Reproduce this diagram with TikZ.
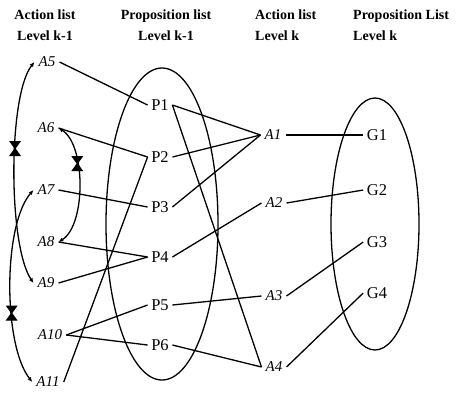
\documentclass[tikz,border=0pt]{standalone}
\usepackage{fontspec}
\setmainfont{Liberation Serif}
\usetikzlibrary{arrows.meta}

\begin{document}
\begin{tikzpicture}[x=1pt, y=-1pt,
                        font       = \fontsize{14}{16}\selectfont,
                        head/.style= {font=\fontsize{14}{21}\selectfont\bfseries, inner sep=0pt},
                        act/.style = {font=\fontsize{15}{17}\selectfont\itshape, inner sep=4pt},
                        prop/.style= {font=\fontsize{16.5}{18}\selectfont, inner sep=3.5pt},
                        ln/.style  = {line width=1.3pt},
                        mx/.style  = {ln, {Latex[length=1.7mm,width=1.5mm]}-{Latex[length=1.7mm,width=1.5mm]}},
                        xm/.style  = {line width=1pt, fill=black, draw=black}
                  ]
                  \useasboundingbox (0,0) rectangle (457,392);

                  % headers
                  \node[head, anchor=north, align=center] (hAprev) at (45,10)  {Action list\\Level k-1};
                  \node[head, anchor=north, align=center] (hPprev) at (166,10) {Proposition list\\Level k-1};
                  \node[head, anchor=north west, align=left] (hAk) at (255,10) {Action list\\Level k};
                  \node[head, anchor=north west, align=left] (hPk) at (353,10) {Proposition List\\Level k};

                  % proposition lists
                  \draw[ln] (162,224) ellipse [x radius=56, y radius=156];
                  \draw[ln] (375,224) ellipse [x radius=44, y radius=126];

                  % action list level k-1
                  \node[act] (a5)  at (47,62)  {A5};
                  \node[act] (a6)  at (46,128) {A6};
                  \node[act] (a7)  at (46,190) {A7};
                  \node[act] (a8)  at (46,242) {A8};
                  \node[act] (a9)  at (46,283) {A9};
                  \node[act] (a10) at (50,335) {A10};
                  \node[act] (a11) at (48,382) {A11};

                  % proposition list level k-1
                  \node[prop] (p1) at (160,105) {P1};
                  \node[prop] (p2) at (160,157) {P2};
                  \node[prop] (p3) at (160,207) {P3};
                  \node[prop] (p4) at (160,257) {P4};
                  \node[prop] (p5) at (160,305) {P5};
                  \node[prop] (p6) at (160,345) {P6};

                  % action list level k
                  \node[act] (a1) at (273,135) {A1};
                  \node[act] (a2) at (274,203) {A2};
                  \node[act] (a3) at (274,296) {A3};
                  \node[act] (a4) at (274,367) {A4};

                  % goals
                  \node[prop] (g1) at (377,135) {G1};
                  \node[prop] (g2) at (377,190) {G2};
                  \node[prop] (g3) at (377,242) {G3};
                  \node[prop] (g4) at (377,293) {G4};

                  \draw[ln] (a5.east)  -- (p1.west);
                  \draw[ln] (a6.east)  -- (p2.west);
                  \draw[ln] (a7.east)  -- (p3.west);
                  \draw[ln] (a8.east)  -- (p4.west);
                  \draw[ln] (a9.east)  -- (p4.west);
                  \draw[ln] (a10.east) -- (p5.west);
                  \draw[ln] (a10.east) -- (p6.west);
                  \draw[ln] (a11.east) -- (p2.west);

                  \draw[ln] (p1.east) -- (a1.west);
                  \draw[ln] (p2.east) -- (a1.west);
                  \draw[ln] (p3.east) -- (a1.west);
                  \draw[ln] (p1.east) -- (a4.west);
                  \draw[ln] (p4.east) -- (a2.west);
                  \draw[ln] (p5.east) -- (a3.west);
                  \draw[ln] (p6.east) -- (a4.west);

                  \draw[ln] (a1.east) -- (g1.west);
                  \draw[ln] (a2.east) -- (g2.west);
                  \draw[ln] (a3.east) -- (g3.west);
                  \draw[ln] (a4.east) -- (g4.west);

                  % mutex links
                  \draw[mx] (a5.west) .. controls (8,95) and (8,245) .. coordinate[pos=0.42] (m1) (a9.west);
                  \draw[mx] (a7.west) .. controls (3,225) and (3,345) .. coordinate[pos=0.62] (m2) (a11.west);
                  \draw[mx] (a6.east) .. controls (86,145) and (86,225) .. coordinate[pos=0.35] (m3) (a8.east);
                  \filldraw[xm, shift={(m1)}] (-5,-7) -- (5,-7) -- (-5,7) -- (5,7) -- cycle;
                  \filldraw[xm, shift={(m2)}] (-5,-7) -- (5,-7) -- (-5,7) -- (5,7) -- cycle;
                  \filldraw[xm, shift={(m3)}] (-5,-7) -- (5,-7) -- (-5,7) -- (5,7) -- cycle;
            \end{tikzpicture}
\end{document}
